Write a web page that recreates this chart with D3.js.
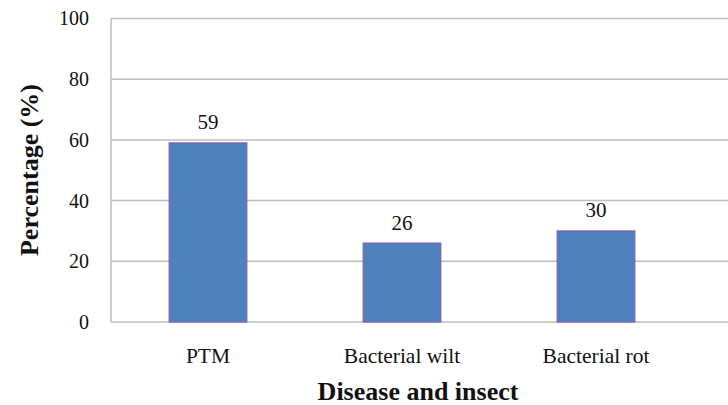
<!DOCTYPE html>
<html><head><meta charset="utf-8">
<script src="https://cdn.jsdelivr.net/npm/d3@7"></script>
<style>html,body{margin:0;padding:0;background:#fff;}</style>
</head><body>
<script>
const categories = ["PTM", "Bacterial wilt", "Bacterial rot"];
const values = [59, 26, 30];
const yTicks = [0, 20, 40, 60, 80, 100];
const yTitle = "Percentage (%)";
const xTitle = "Disease and insect";

(function () {
const W = 728, H = 405;
const mLeft = 111, mRight = 693, mTop = 18.5, mBottom = 322;
const svg = d3.select("body").append("svg").attr("width", W).attr("height", H);
const font = "'Liberation Serif','Times New Roman',serif";

const y = d3.scaleLinear().domain([0, 100]).range([mBottom, mTop]);
const x = d3.scaleBand().domain(categories).range([mLeft, mRight]).paddingInner(0.6).paddingOuter(0.3);

// gridlines
svg.append("g").selectAll("line").data(yTicks).join("line")
  .attr("x1", mLeft).attr("x2", W).attr("y1", d => y(d)).attr("y2", d => y(d))
  .attr("stroke", "#bdbdbd").attr("stroke-width", 1.5);
// left axis line
svg.append("line").attr("x1", mLeft).attr("x2", mLeft).attr("y1", mTop).attr("y2", mBottom)
  .attr("stroke", "#bdbdbd").attr("stroke-width", 1.5);

// y axis labels
const yAxis = d3.axisLeft(y).tickValues(yTicks).tickSize(0).tickPadding(22);
const ga = svg.append("g").attr("transform", `translate(${mLeft},0)`).call(yAxis);
ga.select(".domain").remove();
ga.attr("font-family", null).attr("font-size", null);
ga.selectAll("text").style("font-family", font).style("font-size", "20px").attr("fill", "#111");

// bars
svg.append("g").selectAll("rect").data(values).join("rect")
  .attr("x", (d, i) => x(categories[i]))
  .attr("width", x.bandwidth())
  .attr("y", d => y(d))
  .attr("height", d => y(0) - y(d))
  .attr("fill", "#4F81BD").attr("stroke", "#7E5FB5").attr("stroke-width", 1.2);

// value labels
svg.append("g").selectAll("text").data(values).join("text")
  .attr("x", (d, i) => x(categories[i]) + x.bandwidth() / 2)
  .attr("y", d => y(d) - 13.5)
  .attr("text-anchor", "middle")
  .style("font-family", font).style("font-size", "21px").attr("fill", "#111")
  .text(d => d);

// category labels
const xAxis = d3.axisBottom(x).tickSize(0).tickPadding(0);
const gx = svg.append("g").attr("transform", `translate(0,${mBottom})`).call(xAxis);
gx.select(".domain").remove();
gx.attr("font-family", null).attr("font-size", null);
gx.selectAll("text").attr("dy", null).attr("y", 41)
  .style("font-family", font).style("font-size", "21.5px").attr("fill", "#111");

// titles
svg.append("text").attr("x", 418).attr("y", 400)
  .attr("text-anchor", "middle").style("font-family", font).style("font-weight", "bold")
  .style("font-size", "26px").attr("fill", "#111").text(xTitle);
svg.append("text").attr("transform", `translate(38,170) rotate(-90)`)
  .attr("text-anchor", "middle").style("font-family", font).style("font-weight", "bold")
  .style("font-size", "26px").attr("fill", "#111").text(yTitle);
})();
</script>
</body></html>
